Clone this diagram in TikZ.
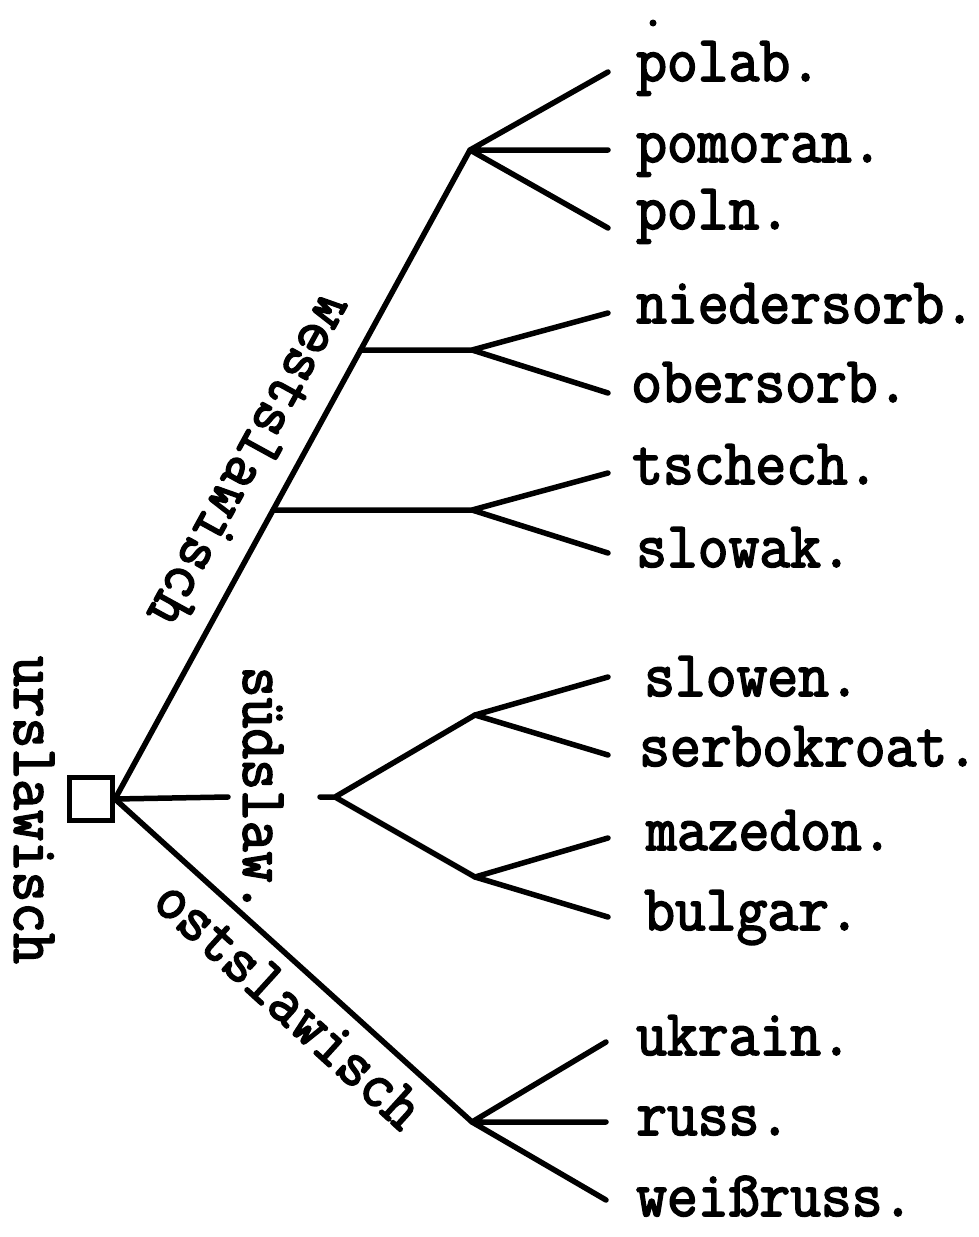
\documentclass[tikz,border=0pt]{standalone}
\usepackage{fontspec}
\usetikzlibrary{calc}
\newfontfamily\tw{Latin Modern Mono}[FakeStretch=0.92,FakeBold=2.6]
\begin{document}
\begin{tikzpicture}[x=1pt,y=-1pt,
  br/.style={line width=5.5pt,line cap=round,line join=round},
  lbl/.style={font=\tw\fontsize{65}{65}\selectfont,inner sep=0pt,anchor=base west},
  rlbl/.style={font=\tw\fontsize{65}{65}\selectfont,inner sep=0pt},
  rootbox/.style={draw,line width=5pt,minimum size=43pt,inner sep=0pt}]
\useasboundingbox (0,0) rectangle (978,1237);
\node[rootbox] (root) at (91,799) {};
% west
\coordinate (wa) at (470,150);
\coordinate (wb0) at ($(root.east)!{(799-350)/(799-150)}!(wa)$);
\coordinate (wc0) at ($(root.east)!{(799-510)/(799-150)}!(wa)$);
\coordinate (wb) at (472,350);
\coordinate (wc) at (472,510);
\coordinate (e1) at (608,72);
\coordinate (e2) at (608,150);
\coordinate (e3) at (608,228);
\coordinate (e4) at (608,313);
\coordinate (e5) at (608,393);
\coordinate (e6) at (608,473);
\coordinate (e7) at (608,553);
% south
\coordinate (s1) at (228,797);
\coordinate (s2) at (320,797);
\coordinate (s3) at (335,797);
\coordinate (sa) at (475,715);
\coordinate (sb) at (475,877);
\coordinate (e8) at (608,677);
\coordinate (e9) at (608,755);
\coordinate (e10) at (608,838);
\coordinate (e11) at (608,917);
% east
\coordinate (oa) at (472,1122);
\coordinate (e12) at (606,1042);
\coordinate (e13) at (606,1122);
\coordinate (e14) at (606,1200);

\draw[br] (root.east) -- (wa);
\draw[br] (wa) -- (e1) (wa) -- (e2) (wa) -- (e3);
\draw[br] (wb0) -- (wb) (wb) -- (e4) (wb) -- (e5);
\draw[br] (wc0) -- (wc) (wc) -- (e6) (wc) -- (e7);
\draw[br] (root.east) -- (s1);
\draw[br] (s2) -- (s3) (s3) -- (sa) (s3) -- (sb);
\draw[br] (sa) -- (e8) (sa) -- (e9) (sb) -- (e10) (sb) -- (e11);
\draw[br] (root.east) -- (oa);
\draw[br] (oa) -- (e12) (oa) -- (e13) (oa) -- (e14);

\node[lbl] (polab) at (636,81) {polab.};
\node[lbl] (pomoran) at (636,162) {pomoran.};
\node[lbl] (poln) at (636,229) {poln.};
\node[lbl] (nsorb) at (636,323) {niedersorb.};
\node[lbl] (osorb) at (631,402) {obersorb.};
\node[lbl] (tschech) at (632,484) {tschech.};
\node[lbl] (slowak) at (636,567) {slowak.};
\node[lbl] (slowen) at (644,696) {slowen.};
\node[lbl] (serbo) at (639,766) {serbokroat.};
\node[lbl] (maz) at (646,850) {mazedon.};
\node[lbl] (bulg) at (644,930) {bulgar.};
\node[lbl] (ukr) at (636,1055) {ukrain.};
\node[lbl] (russ) at (636,1135) {russ.};
\node[lbl] (weiss) at (636,1216) {weißruss.};

\node[rlbl,rotate=-118.75] (west) at (252,462) {westslawisch};
\node[rlbl,rotate=-42.3] (ost) at (289,1004) {ostslawisch};
\node[rlbl,rotate=-90] (ur) at (34,810) {urslawisch};
\node[rlbl,rotate=-90] (sued) at (263,790) {südslaw.};

\fill (653,23) circle (3.5);
\end{tikzpicture}
\end{document}
